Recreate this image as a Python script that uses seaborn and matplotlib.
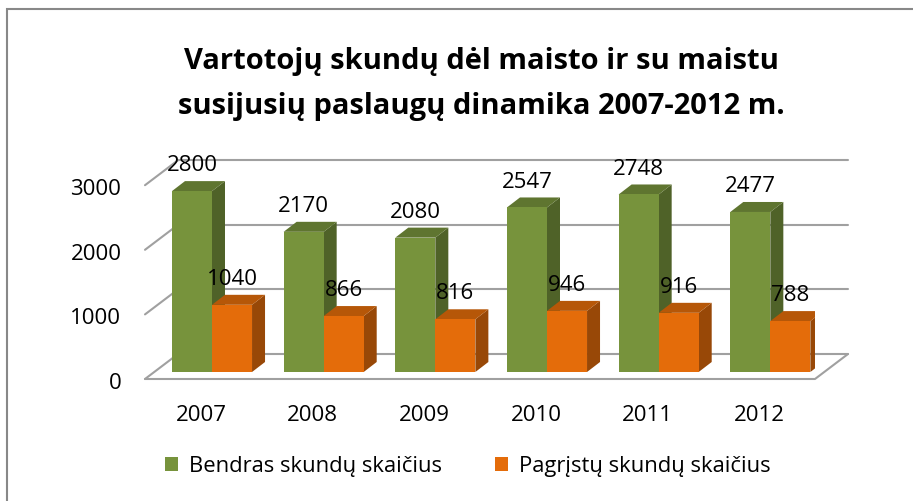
import matplotlib
matplotlib.use("Agg")
import pandas as pd
import matplotlib.pyplot as plt
import seaborn as sns
from matplotlib.patches import Polygon, Rectangle
from matplotlib.transforms import ScaledTranslation

years = ["2007", "2008", "2009", "2010", "2011", "2012"]
bendras = [2800, 2170, 2080, 2547, 2748, 2477]
pagristu = [1040, 866, 816, 946, 916, 788]
series_names = ["Bendras skundų skaičius", "Pagrįstų skundų skaičius"]
y_ticks = [0, 1000, 2000, 3000]
title = "Vartotojų skundų dėl maisto ir su maistu\nsusijusių paslaugų dinamika 2007-2012 m."

front_colors = ["#77933C", "#E46C0A"]
side_colors = ["#4F6228", "#984807"]
top_colors = ["#5F7530", "#B65708"]

df = pd.DataFrame({
    "year": years * 2,
    "value": bendras + pagristu,
    "series": [series_names[0]] * len(years) + [series_names[1]] * len(years),
})

sns.set_theme(style="white")
plt.rcParams["font.family"] = ["Open Sans", "DejaVu Sans"]
plt.rcParams["text.color"] = "black"

W, H = 913, 502
fig = plt.figure(figsize=(W / 100, H / 100), dpi=100)
# plot area = front edge of the floor, in pixels
ax = fig.add_axes([145 / W, (H - 380) / H, 670 / W, 230 / H])

sns.barplot(df, x="year", y="value", hue="series", palette=front_colors,
            saturation=1, width=0.717, ax=ax, zorder=3, edgecolor="none")

ax.set_xlim(-0.6, 5.4)
ax.set_ylim(-108.4, 3452)
kx = 6.0 / 670                 # data units per pixel
ky = (3452 + 108.4) / 230

# fake 3d walls: back wall shifted up/right, floor front edge a bit lower
bx, by = 33 * kx, 18 * ky
fy = -7 * ky
x0, x1 = ax.get_xlim()
grid_kw = dict(color="#A0A0A0", lw=1.5, zorder=1, clip_on=False)
for v in y_ticks:
    ax.plot([x0 + bx, x1 + bx], [v + by, v + by], **grid_kw)
    ax.plot([x0, x0 + bx], [v + fy, v + by], **grid_kw)
ax.plot([x0, x1, x1 + bx], [fy, fy, by], **grid_kw)

# side and top faces of bars
dx, dy = 13 * kx, 10 * ky
for i, cont in enumerate(ax.containers):
    for bar in cont:
        xl, w, h = bar.get_x(), bar.get_width(), bar.get_height()
        xr = xl + w
        ax.add_patch(Polygon([(xr, 0), (xr + dx, dy), (xr + dx, h + dy), (xr, h)],
                             closed=True, fc=side_colors[i], ec="none", zorder=2))
        ax.add_patch(Polygon([(xl, h), (xl + dx, h + dy), (xr + dx, h + dy), (xr, h)],
                             closed=True, fc=top_colors[i], ec="none", zorder=2.5))
        ax.annotate(f"{int(h)}", (xl + w / 2, h), xytext=(0, 19), textcoords="offset points",
                    ha="center", va="center", fontsize=16, color="black", zorder=5)

ax.set_yticks(y_ticks)
ax.set_yticklabels([str(v) for v in y_ticks])
ax.tick_params(axis="y", length=0, pad=17, labelsize=16, labelcolor="black")
ax.tick_params(axis="x", length=0, pad=18, labelsize=16, labelcolor="black")
for lab in ax.get_yticklabels():
    lab.set_transform(lab.get_transform() + ScaledTranslation(0, -0.08, fig.dpi_scale_trans))
for lab in ax.get_xticklabels():
    lab.set_transform(lab.get_transform() + ScaledTranslation(-0.11, 0, fig.dpi_scale_trans))
ax.set_xlabel("")
ax.set_ylabel("")
for s in ax.spines.values():
    s.set_visible(False)

handles, labels = ax.get_legend_handles_labels()
ax.get_legend().remove()
fig.legend(handles, labels, loc="center", bbox_to_anchor=(468 / W, (H - 467) / H), ncol=2,
           frameon=False, fontsize=15.8, handlelength=0.6, handleheight=0.6,
           handletextpad=0.5, columnspacing=2.4)

fig.text(481 / W, (H - 84) / H, title, ha="center", va="center", fontsize=21,
         fontweight="bold", linespacing=1.75, color="black")

fig.add_artist(Rectangle((7 / W, -0.1), 1.2, (H - 10) / H + 0.1, transform=fig.transFigure,
                         fill=False, ec="#888888", lw=1.5))

fig.savefig("out.png", dpi=100)
